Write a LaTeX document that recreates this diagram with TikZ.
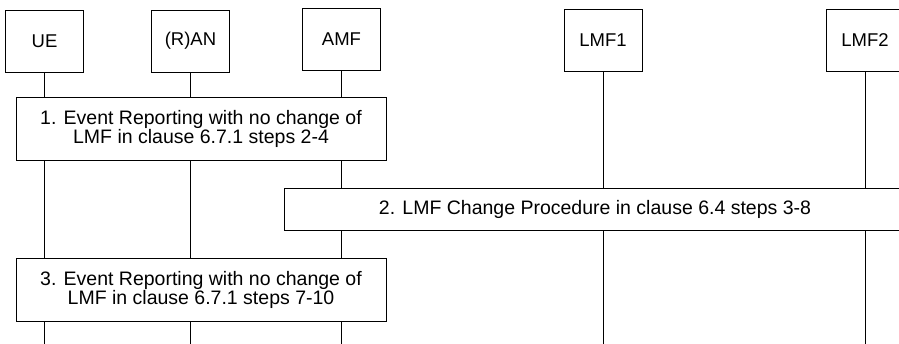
\documentclass[tikz,border=0pt]{standalone}
\usepackage{fontspec}
\setmainfont{Liberation Sans}
\usetikzlibrary{positioning}

\begin{document}
\begin{tikzpicture}[x=1pt,y=-1pt,node distance=150pt,on grid,line width=0.8pt,
  entity/.style={draw,minimum width=78pt,minimum height=62pt,font=\fontsize{18.5}{19}\selectfont},
  proc/.style={draw,fill=white,align=center,font=\fontsize{19.5}{19}\selectfont}]

  \useasboundingbox (0,0) rectangle (899,343);

  \node[entity] (UE) at (44.5,41) {UE};
  \node[entity] (RAN) [right=146pt of UE] {(R)AN};
  \node[entity] (AMF) [right=151pt of RAN, yshift=1.5pt] {AMF};
  \node[entity] (LMF1) [right=261.5pt of AMF, yshift=-1pt] {LMF1};
  \node[entity] (LMF2) [right=262pt of LMF1] {LMF2};

  \coordinate (end) at (0,345);
  \foreach \n in {UE,RAN,AMF,LMF1,LMF2}
    \draw (\n.south) -- (\n |- end);

  \node[proc, minimum width=370pt, minimum height=63pt] (S1) at (201,128.5)
    {1. Event Reporting with no change of\\LMF in clause 6.7.1 steps 2-4};
  \node[proc, minimum width=622pt, minimum height=42pt] (S2) at (595,209)
    {2. LMF Change Procedure in clause 6.4 steps 3-8};
  \node[proc, minimum width=370pt, minimum height=63pt] (S3) at (201,289.5)
    {3. Event Reporting with no change of\\LMF in clause 6.7.1 steps 7-10};

\end{tikzpicture}
\end{document}
